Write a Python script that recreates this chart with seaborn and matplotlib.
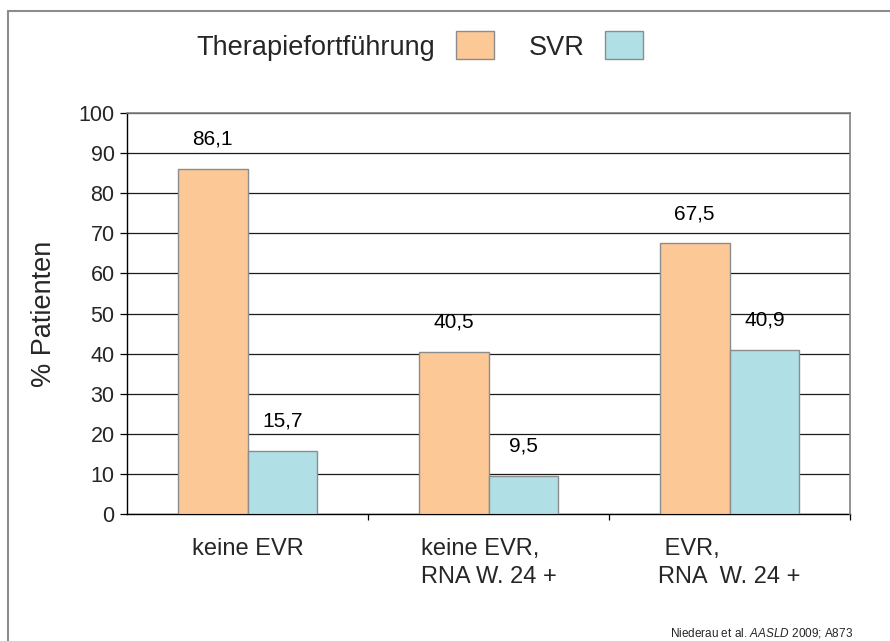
import pandas as pd
import matplotlib.pyplot as plt
import seaborn as sns
from matplotlib.patches import Patch
from matplotlib.lines import Line2D

sns.set_style("white")
plt.rcParams["font.family"] = ["Liberation Sans", "DejaVu Sans"]
plt.rcParams["mathtext.fontset"] = "custom"
plt.rcParams["mathtext.rm"] = "Liberation Sans"
plt.rcParams["mathtext.it"] = "Liberation Sans:italic"

# data
categories = ["keine EVR", "keine EVR,\nRNA W. 24 +", " EVR,\nRNA  W. 24 +"]
series_names = ["Therapiefortführung", "SVR"]
therapie = [86.1, 40.5, 67.5]
svr = [15.7, 9.5, 40.9]
y_ticks = list(range(0, 101, 10))

ORANGE = "#FCC896"
BLUE = "#B0E0E6"
EDGE = "#8C8C8C"

df = pd.DataFrame({
    "Gruppe": categories * 2,
    "Serie": [series_names[0]] * 3 + [series_names[1]] * 3,
    "Wert": therapie + svr,
})

fig = plt.figure(figsize=(8.9, 6.41), dpi=100)
ax = fig.add_axes([127 / 890, 1 - 514 / 641, 723 / 890, 401 / 641])

sns.barplot(data=df, x="Gruppe", y="Wert", hue="Serie", order=categories,
            hue_order=series_names, palette=[ORANGE, BLUE], width=0.58,
            edgecolor=EDGE, linewidth=1, saturation=1, legend=False, ax=ax, zorder=3)

# value labels with decimal comma
for cont in ax.containers:
    vals = [b.get_height() for b in cont]
    ax.bar_label(cont, labels=[f"{v:.1f}".replace(".", ",") for v in vals],
                 padding=14.5, fontsize=15, color="black")

ax.set_ylim(0, 100)
ax.set_xlim(-0.5, len(categories) - 0.5)
ax.set_yticks(y_ticks)
ax.yaxis.grid(True, color="#1a1a1a", linewidth=0.9, zorder=0)
ax.set_axisbelow(True)
ax.tick_params(axis="y", which="major", left=True, direction="out", length=5,
               width=0.9, color="black", labelsize=15.5, pad=4)

# category labels, tick marks only at group boundaries
ax.set_xticks(range(len(categories)))
ax.set_xticklabels(categories, fontsize=17, multialignment="left", linespacing=1.4)
ax.tick_params(axis="x", which="major", length=0, pad=17)
ax.set_xticks([0.5, 1.5, 2.5], minor=True)
ax.tick_params(axis="x", which="minor", bottom=True, direction="out", length=4.5,
               width=0.9, color="black")

ax.set_xlabel("")
ax.set_ylabel("% Patienten", fontsize=19.5)
ax.yaxis.set_label_coords(-0.097, 0.5)

for side in ["left", "bottom"]:
    ax.spines[side].set_color("black")
    ax.spines[side].set_linewidth(1.0)
for side in ["top", "right"]:
    ax.spines[side].set_color("#808080")
    ax.spines[side].set_linewidth(1.2)
    ax.spines[side].set_zorder(5)

handles = [Patch(facecolor=ORANGE, edgecolor=EDGE, linewidth=1),
           Patch(facecolor=BLUE, edgecolor=EDGE, linewidth=1)]
fig.legend(handles, series_names, loc="center", bbox_to_anchor=(420 / 890, 1 - 46 / 641),
           ncol=2, markerfirst=False, frameon=False, fontsize=19.5,
           handlelength=1.4, handleheight=1.2, handletextpad=0.75,
           columnspacing=1.3, borderpad=0)

fig.text(853 / 890, 1 - 633 / 641, r"Niederau et al. $\it{AASLD}$ 2009; A873",
         ha="right", va="center", fontsize=8.5)

# outer slide frame (left and top edges)
fig.add_artist(Line2D([8 / 890, 8 / 890], [0, 1 - 11 / 641], transform=fig.transFigure,
                      color="#8C8C8C", linewidth=1.5))
fig.add_artist(Line2D([8 / 890, 1], [1 - 11 / 641, 1 - 11 / 641], transform=fig.transFigure,
                      color="#8C8C8C", linewidth=1.5))

fig.savefig("out.png", dpi=100)
